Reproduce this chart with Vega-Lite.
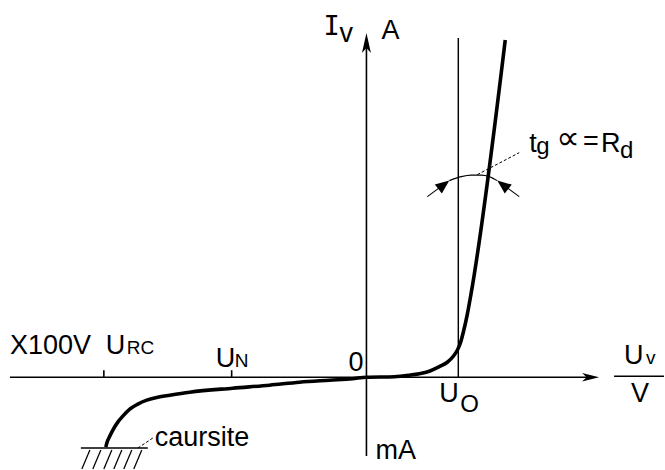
{
  "$schema": "https://vega.github.io/schema/vega-lite/v6.json",
  "width": 665,
  "height": 470,
  "autosize": {"type": "fit", "contains": "padding"},
  "padding": 0,
  "background": "white",
  "config": {"view": {"stroke": null}},
  "datasets": {
    "segments": [
      {"u": -357, "i": 0, "u2": 226, "i2": 0, "kind": "axis"},
      {"u": 0, "i": -79, "u2": 0, "i2": 336, "kind": "axis"},
      {"u": 92, "i": 0, "u2": 92, "i2": 340, "kind": "thin"},
      {"u": 248, "i": 1, "u2": 298, "i2": 1, "kind": "axis"},
      {"u": -263, "i": 0, "u2": -263, "i2": 7, "kind": "axis"},
      {"u": -135, "i": 0, "u2": -135, "i2": 7, "kind": "axis"},
      {"u": -286, "i": -71, "u2": -219, "i2": -71, "kind": "axis"},
      {"u": -277, "i": -73, "u2": -285, "i2": -92, "kind": "hatch"},
      {"u": -266, "i": -73, "u2": -274, "i2": -92, "kind": "hatch"},
      {"u": -255, "i": -73, "u2": -263, "i2": -92, "kind": "hatch"},
      {"u": -245, "i": -73, "u2": -253, "i2": -92, "kind": "hatch"},
      {"u": -235, "i": -73, "u2": -243, "i2": -92, "kind": "hatch"},
      {"u": -225, "i": -73, "u2": -233, "i2": -92, "kind": "hatch"},
      {"u": 61, "i": 181, "u2": 80, "i2": 195, "kind": "tail"},
      {"u": 153, "i": 181, "u2": 134, "i2": 195, "kind": "tail"}
    ],
    "leaders": [
      {"u": -229, "i": -71, "u2": -214, "i2": -61},
      {"u": 111, "i": 203, "u2": 153, "i2": 225}
    ],
    "curve": [
      {"u": -261, "i": -70},
      {"u": -260, "i": -66},
      {"u": -257, "i": -59},
      {"u": -254, "i": -53},
      {"u": -249, "i": -45},
      {"u": -244, "i": -39},
      {"u": -237, "i": -32},
      {"u": -229, "i": -27},
      {"u": -220, "i": -23},
      {"u": -209, "i": -20},
      {"u": -197, "i": -18},
      {"u": -177, "i": -15},
      {"u": -134, "i": -11},
      {"u": -97, "i": -8},
      {"u": -67, "i": -5},
      {"u": -37, "i": -3},
      {"u": -14, "i": -1.5},
      {"u": 0, "i": 0},
      {"u": 28, "i": 0.5},
      {"u": 43, "i": 2},
      {"u": 53, "i": 3.5},
      {"u": 63, "i": 6},
      {"u": 73, "i": 10.5},
      {"u": 81, "i": 15},
      {"u": 87, "i": 21},
      {"u": 91, "i": 27},
      {"u": 94, "i": 34},
      {"u": 97, "i": 45},
      {"u": 101, "i": 63},
      {"u": 105, "i": 85},
      {"u": 139, "i": 338}
    ],
    "arc": [
      {"u": 83, "i": 197},
      {"u": 95, "i": 201},
      {"u": 105, "i": 202.5},
      {"u": 115, "i": 202.5},
      {"u": 123, "i": 201},
      {"u": 131, "i": 197}
    ],
    "arrows": [
      {"u": 0, "i": 345, "dir": "up"},
      {"u": 233, "i": 0, "dir": "right"},
      {"u": 83, "i": 197, "dir": "ur"},
      {"u": 131, "i": 197, "dir": "ul"}
    ],
    "labels": [
      {"u": -357, "i": 23, "text": "X100V", "role": "main", "face": "sans"},
      {"u": -261, "i": 23, "text": "U", "role": "main", "face": "sans"},
      {"u": -240, "i": 23, "text": "RC", "role": "sub", "face": "sans"},
      {"u": -151, "i": 10, "text": "U", "role": "main", "face": "sans"},
      {"u": -132, "i": 10, "text": "N", "role": "sub", "face": "sans"},
      {"u": -18, "i": 6, "text": "0", "role": "main", "face": "sans"},
      {"u": 9, "i": -82, "text": "mA", "role": "main", "face": "sans"},
      {"u": 73, "i": -25, "text": "U", "role": "main", "face": "sans"},
      {"u": 94, "i": -35, "text": "O", "role": "mid", "face": "sans"},
      {"u": -27, "i": 336, "text": "v", "role": "main", "face": "sans"},
      {"u": 15, "i": 339, "text": "A", "role": "main", "face": "sans"},
      {"u": 258, "i": 13, "text": "U", "role": "main", "face": "sans"},
      {"u": 280, "i": 13, "text": "v", "role": "sub", "face": "sans"},
      {"u": 265, "i": -25, "text": "V", "role": "main", "face": "sans"},
      {"u": 163, "i": 226, "text": "t", "role": "main", "face": "sans"},
      {"u": 170, "i": 224, "text": "g", "role": "mid", "face": "sans"},
      {"u": 217, "i": 228, "text": "=", "role": "main", "face": "sans"},
      {"u": 235, "i": 226, "text": "R", "role": "main", "face": "sans"},
      {"u": 254, "i": 220, "text": "d", "role": "mid", "face": "sans"},
      {"u": -212, "i": -69, "text": "caursite", "role": "main", "face": "sans"},
      {"u": -43, "i": 343, "text": "I", "role": "main", "face": "mono"},
      {"u": 190, "i": 229, "text": "∝", "role": "big", "face": "sym"}
    ]
  },
  "encoding": {
    "x": {"field": "u", "type": "quantitative", "scale": {"domain": [-367, 298], "nice": false, "zero": false}, "axis": null},
    "y": {"field": "i", "type": "quantitative", "scale": {"domain": [-92, 378], "nice": false, "zero": false}, "axis": null}
  },
  "layer": [
    {
      "data": {"name": "segments"},
      "mark": {"type": "rule", "color": "black", "strokeCap": "butt"},
      "encoding": {
        "x2": {"field": "u2"},
        "y2": {"field": "i2"},
        "strokeWidth": {"field": "kind", "type": "nominal", "legend": null, "scale": {"domain": ["axis", "thin", "hatch", "tail"], "range": [1.6, 1.1, 2.2, 2.4]}}
      }
    },
    {
      "data": {"name": "leaders"},
      "mark": {"type": "rule", "color": "black", "strokeWidth": 1, "strokeDash": [3, 2]},
      "encoding": {"x2": {"field": "u2"}, "y2": {"field": "i2"}}
    },
    {
      "data": {"name": "arc"},
      "mark": {"type": "line", "color": "black", "strokeWidth": 1.1, "interpolate": "monotone"},
      "encoding": {}
    },
    {
      "data": {"name": "curve"},
      "mark": {"type": "line", "color": "black", "strokeWidth": 3.6, "interpolate": "monotone", "strokeJoin": "round"},
      "encoding": {}
    },
    {
      "data": {"name": "arrows"},
      "mark": {"type": "point", "filled": true, "color": "black", "opacity": 1, "size": 400},
      "encoding": {
        "shape": {"field": "dir", "type": "nominal", "legend": null, "scale": {"domain": ["up", "right", "ur", "ul"], "range": ["M0,0L0.45,2L0,1.5L-0.45,2Z", "M0,0L-1.7,-0.42L-1.25,0L-1.7,0.42Z", "M0,0L-0.75,1.3L-1.45,0.4Z", "M0,0L0.75,1.3L1.45,0.4Z"]}}
      }
    },
    {
      "data": {"name": "labels"},
      "transform": [{"filter": "datum.face === 'sans' && datum.role === 'main'"}],
      "mark": {"type": "text", "align": "left", "baseline": "alphabetic", "font": "Liberation Sans", "fontSize": 27, "color": "black"},
      "encoding": {"text": {"field": "text"}}
    },
    {
      "data": {"name": "labels"},
      "transform": [{"filter": "datum.face === 'sans' && datum.role === 'mid'"}],
      "mark": {"type": "text", "align": "left", "baseline": "alphabetic", "font": "Liberation Sans", "fontSize": 24, "color": "black"},
      "encoding": {"text": {"field": "text"}}
    },
    {
      "data": {"name": "labels"},
      "transform": [{"filter": "datum.face === 'sans' && datum.role === 'sub'"}],
      "mark": {"type": "text", "align": "left", "baseline": "alphabetic", "font": "Liberation Sans", "fontSize": 19, "color": "black"},
      "encoding": {"text": {"field": "text"}}
    },
    {
      "data": {"name": "labels"},
      "transform": [{"filter": "datum.face === 'mono'"}],
      "mark": {"type": "text", "align": "left", "baseline": "alphabetic", "font": "DejaVu Sans Mono", "fontSize": 27, "color": "black"},
      "encoding": {"text": {"field": "text"}}
    },
    {
      "data": {"name": "labels"},
      "transform": [{"filter": "datum.face === 'sym'"}],
      "mark": {"type": "text", "align": "left", "baseline": "alphabetic", "font": "DejaVu Sans", "fontSize": 33, "color": "black"},
      "encoding": {"text": {"field": "text"}}
    }
  ]
}
